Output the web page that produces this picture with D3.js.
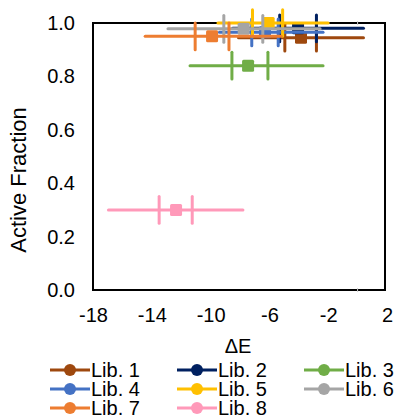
<!DOCTYPE html>
<html>
<head>
<meta charset="utf-8">
<script src="https://cdn.jsdelivr.net/npm/d3@7"></script>
<style>
  body { margin: 0; background: #fff; }
  text { font-family: "Liberation Sans", Arial, sans-serif; fill: #000; }
</style>
</head>
<body>
<div id="chart"></div>
<script>
// series data
var libs = ["Lib. 1", "Lib. 2", "Lib. 3", "Lib. 4", "Lib. 5", "Lib. 6", "Lib. 7", "Lib. 8"];
var colors = ["#9E480E", "#002060", "#70AD47", "#4472C4", "#FFC000", "#A5A5A5", "#ED7D31", "#FF99B9"];
var dE = [-3.85, -4.05, -7.45, -6.3, -6.05, -7.75, -9.9, -12.35];
var frac = [0.945, 0.98, 0.84, 0.965, 1.0, 0.978, 0.95, 0.30];
// full range (whiskers)
var dELo = [-8.1, -8.5, -11.4, -9.4, -9.5, -12.9, -14.45, -16.95];
var dEHi = [0.4, 0.4, -2.35, -2.35, -2.0, -2.55, -5.2, -7.8];
// inner marks
var innerLo = [-4.95, -5.3, -8.55, -7.2, -7.15, -9.1, -11.05, -13.5];
var innerHi = [-2.8, -2.8, -6.1, -5.4, -5.1, -6.45, -8.75, -11.25];

var xTicks = [-18, -14, -10, -6, -2, 2];
var yTicks = [0, 0.2, 0.4, 0.6, 0.8, 1.0];

var width = 398, height = 418;
var svg = d3.select("#chart").append("svg")
    .attr("width", width)
    .attr("height", height);

var x = d3.scaleLinear().domain([-18, 2]).range([93, 387]);
var y = d3.scaleLinear().domain([0, 1]).range([290, 23]);

// plot frame
svg.append("rect")
    .attr("x", x(-18))
    .attr("y", y(1))
    .attr("width", 385 - x(-18))
    .attr("height", y(0) - y(1))
    .attr("fill", "none")
    .attr("stroke", "#000")
    .attr("stroke-width", 2);

// faint marks where x = 0
[0, 1].forEach(function(v) {
    svg.append("line")
        .attr("x1", x(0)).attr("x2", x(0))
        .attr("y1", y(v) - 2).attr("y2", y(v) + 2)
        .attr("stroke", "#ccc").attr("stroke-width", 1);
});

// axes (labels only)
var xAxis = svg.append("g")
    .attr("transform", "translate(0," + 322 + ")")
    .call(d3.axisBottom(x).tickValues(xTicks).tickSize(0).tickFormat(d3.format("d")));
xAxis.select(".domain").remove();
xAxis.selectAll("text")
    .attr("y", 0)
    .attr("dy", 0)
    .style("font-size", "20px")
    .text(function(d) { return d < 0 ? "-" + Math.abs(d) : d; });

var yAxis = svg.append("g")
    .attr("transform", "translate(" + 75 + ",0)")
    .call(d3.axisLeft(y).tickValues(yTicks).tickSize(0).tickFormat(d3.format(".1f")));
yAxis.select(".domain").remove();
yAxis.selectAll("text")
    .attr("x", 0)
    .style("font-size", "20px");

// axis titles
svg.append("text")
    .attr("x", 238)
    .attr("y", 353)
    .attr("text-anchor", "middle")
    .style("font-size", "20px")
    .text("ΔE");

svg.append("text")
    .attr("transform", "translate(26,180) rotate(-90)")
    .attr("text-anchor", "middle")
    .style("font-size", "22px")
    .text("Active Fraction");

// series
var series = libs.map(function(name, i) {
    return {name: name, color: colors[i], dE: dE[i], frac: frac[i],
            lo: dELo[i], hi: dEHi[i], iLo: innerLo[i], iHi: innerHi[i]};
});

var capHalf = 0.05;
var g = svg.append("g");
series.forEach(function(d) {
    var s = g.append("g").attr("class", "series");
    s.append("line")
        .attr("x1", x(d.lo)).attr("x2", x(d.hi))
        .attr("y1", y(d.frac)).attr("y2", y(d.frac))
        .attr("stroke", d.color).attr("stroke-width", 3)
        .attr("stroke-linecap", "round");
    [d.iLo, d.iHi].forEach(function(v) {
        s.append("line")
            .attr("x1", x(v)).attr("x2", x(v))
            .attr("y1", y(d.frac + capHalf)).attr("y2", y(d.frac - capHalf))
            .attr("stroke", d.color).attr("stroke-width", 3)
            .attr("stroke-linecap", "round");
    });
    s.append("rect")
        .attr("x", x(d.dE) - 6)
        .attr("y", y(d.frac) - 6)
        .attr("width", 12).attr("height", 12)
        .attr("rx", 1.5)
        .attr("fill", d.color);
});

// legend
var legX = [50, 177, 304], legY = [370, 389, 408];
series.forEach(function(d, i) {
    var lg = svg.append("g")
        .attr("transform", "translate(" + legX[i % 3] + "," + legY[Math.floor(i / 3)] + ")");
    lg.append("line")
        .attr("x1", 0).attr("x2", 40)
        .attr("stroke", d.color).attr("stroke-width", 3);
    lg.append("circle")
        .attr("cx", 20).attr("r", 6)
        .attr("fill", d.color);
    lg.append("text")
        .attr("x", 41).attr("y", 7)
        .style("font-size", "20px")
        .text(d.name);
});
</script>
</body>
</html>
